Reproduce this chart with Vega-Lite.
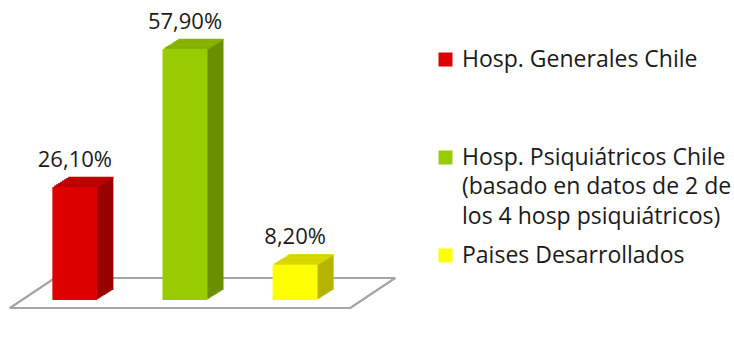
{
  "$schema": "https://vega.github.io/schema/vega-lite/v6.json",
  "autosize": "none",
  "width": 370,
  "height": 260,
  "padding": {"top": 40, "left": 0, "right": 364, "bottom": 37},
  "background": "white",
  "config": {
    "view": {"stroke": null},
    "font": "Open Sans",
    "style": {"guide-label": {"lineHeight": 29.5}}
  },
  "data": {
    "values": [
      {"cat": "Hosp. Generales Chile", "value": 26.1, "label": "26,10%"},
      {"cat": "Hosp. Psiquiátricos Chile (basado en datos de 2 de los 4 hosp psiquiátricos)", "value": 57.9, "label": "57,90%"},
      {"cat": "Paises Desarrollados", "value": 8.2, "label": "8,20%"}
    ]
  },
  "encoding": {
    "x": {"field": "cat", "type": "nominal", "axis": null,
          "scale": {"domain": ["Hosp. Generales Chile", "Hosp. Psiquiátricos Chile (basado en datos de 2 de los 4 hosp psiquiátricos)", "Paises Desarrollados"], "paddingInner": 0, "paddingOuter": 0.18}},
    "y": {"field": "value", "type": "quantitative", "axis": null, "scale": {"domain": [0, 60], "nice": false}}
  },
  "layer": [
    {
      "mark": {"type": "rule", "stroke": "#a6a6a6", "strokeWidth": 2, "yOffset": 8, "y2Offset": 8},
      "encoding": {
        "x": {"datum": "Hosp. Generales Chile", "bandPosition": -0.09},
        "x2": {"datum": "Paises Desarrollados", "bandPosition": 1.0},
        "y": {"datum": 0},
        "y2": {"datum": 0}
      }
    },
    {
      "mark": {"type": "rule", "stroke": "#a6a6a6", "strokeWidth": 2, "xOffset": 45, "x2Offset": 45, "yOffset": -22, "y2Offset": -22},
      "encoding": {
        "x": {"datum": "Hosp. Generales Chile", "bandPosition": -0.09},
        "x2": {"datum": "Paises Desarrollados", "bandPosition": 1.0},
        "y": {"datum": 0},
        "y2": {"datum": 0}
      }
    },
    {
      "mark": {"type": "rule", "stroke": "#a6a6a6", "strokeWidth": 2, "xOffset": 0, "x2Offset": 45, "yOffset": 8, "y2Offset": -22},
      "encoding": {
        "x": {"datum": "Hosp. Generales Chile", "bandPosition": -0.09},
        "x2": {"datum": "Hosp. Generales Chile", "bandPosition": -0.09},
        "y": {"datum": 0},
        "y2": {"datum": 0}
      }
    },
    {
      "mark": {"type": "rule", "stroke": "#a6a6a6", "strokeWidth": 2, "xOffset": 0, "x2Offset": 45, "yOffset": 8, "y2Offset": -22},
      "encoding": {
        "x": {"datum": "Paises Desarrollados", "bandPosition": 1.0},
        "x2": {"datum": "Paises Desarrollados", "bandPosition": 1.0},
        "y": {"datum": 0},
        "y2": {"datum": 0}
      }
    },
    {
      "encoding": {
        "fill": {"field": "cat", "type": "nominal", "legend": null,
                 "scale": {"domain": ["Hosp. Generales Chile", "Hosp. Psiquiátricos Chile (basado en datos de 2 de los 4 hosp psiquiátricos)", "Paises Desarrollados"],
                           "range": ["#990000", "#6b8f00", "#b5b500"]}}
      },
      "layer": [
        {"mark": {"type": "bar", "size": 45, "xOffset": 16, "yOffset": -10, "y2Offset": -10}},
        {"mark": {"type": "bar", "size": 45, "xOffset": 14, "yOffset": -8.75, "y2Offset": -8.75}},
        {"mark": {"type": "bar", "size": 45, "xOffset": 12, "yOffset": -7.5, "y2Offset": -7.5}},
        {"mark": {"type": "bar", "size": 45, "xOffset": 10, "yOffset": -6.25, "y2Offset": -6.25}},
        {"mark": {"type": "bar", "size": 45, "xOffset": 8, "yOffset": -5, "y2Offset": -5}},
        {"mark": {"type": "bar", "size": 45, "xOffset": 6, "yOffset": -3.75, "y2Offset": -3.75}},
        {"mark": {"type": "bar", "size": 45, "xOffset": 4, "yOffset": -2.5, "y2Offset": -2.5}},
        {"mark": {"type": "bar", "size": 45, "xOffset": 2, "yOffset": -1.25, "y2Offset": -1.25}}
      ]
    },
    {
      "encoding": {
        "fill": {"field": "cat", "type": "nominal", "legend": null,
                 "scale": {"domain": ["Hosp. Generales Chile", "Hosp. Psiquiátricos Chile (basado en datos de 2 de los 4 hosp psiquiátricos)", "Paises Desarrollados"],
                           "range": ["#c00000", "#88b500", "#d9d900"]}}
      },
      "layer": [
        {"mark": {"type": "tick", "size": 45, "thickness": 1.5, "opacity": 1, "xOffset": 16, "yOffset": -9.5}},
        {"mark": {"type": "tick", "size": 45, "thickness": 1.5, "opacity": 1, "xOffset": 14, "yOffset": -8.25}},
        {"mark": {"type": "tick", "size": 45, "thickness": 1.5, "opacity": 1, "xOffset": 12, "yOffset": -7}},
        {"mark": {"type": "tick", "size": 45, "thickness": 1.5, "opacity": 1, "xOffset": 10, "yOffset": -5.75}},
        {"mark": {"type": "tick", "size": 45, "thickness": 1.5, "opacity": 1, "xOffset": 8, "yOffset": -4.5}},
        {"mark": {"type": "tick", "size": 45, "thickness": 1.5, "opacity": 1, "xOffset": 6, "yOffset": -3.25}},
        {"mark": {"type": "tick", "size": 45, "thickness": 1.5, "opacity": 1, "xOffset": 4, "yOffset": -2}},
        {"mark": {"type": "tick", "size": 45, "thickness": 1.5, "opacity": 1, "xOffset": 2, "yOffset": -0.75}}
      ]
    },
    {
      "mark": {"type": "bar", "size": 45},
      "encoding": {
        "color": {"field": "cat", "type": "nominal",
                  "scale": {"domain": ["Hosp. Generales Chile", "Hosp. Psiquiátricos Chile (basado en datos de 2 de los 4 hosp psiquiátricos)", "Paises Desarrollados"],
                            "range": ["#dd0000", "#99cc00", "#ffff00"]},
                  "legend": {
                    "title": null,
                    "orient": "none",
                    "legendX": 434,
                    "legendY": 8,
                    "gridAlign": "all",
                    "symbolType": "square",
                    "symbolSize": 196,
                    "symbolStrokeWidth": 0,
                    "symbolOpacity": 1,
                    "labelFont": "Open Sans",
                    "labelFontSize": 23,
                    "labelColor": "#1a1a1a",
                    "labelLimit": 0,
                    "labelOffset": 5,
                    "rowPadding": 15,
                    "labelExpr": "indexof(datum.label, '(') > 0 ? ['Hosp. Psiquiátricos Chile', '(basado en datos de 2 de', 'los 4 hosp psiquiátricos)'] : datum.label"
                  }}
      }
    },
    {
      "mark": {"type": "text", "font": "Open Sans", "fontSize": 22, "color": "#1a1a1a", "baseline": "middle", "dy": -27},
      "encoding": {"text": {"field": "label"}}
    }
  ],
  "resolve": {"scale": {"fill": "independent"}}
}
